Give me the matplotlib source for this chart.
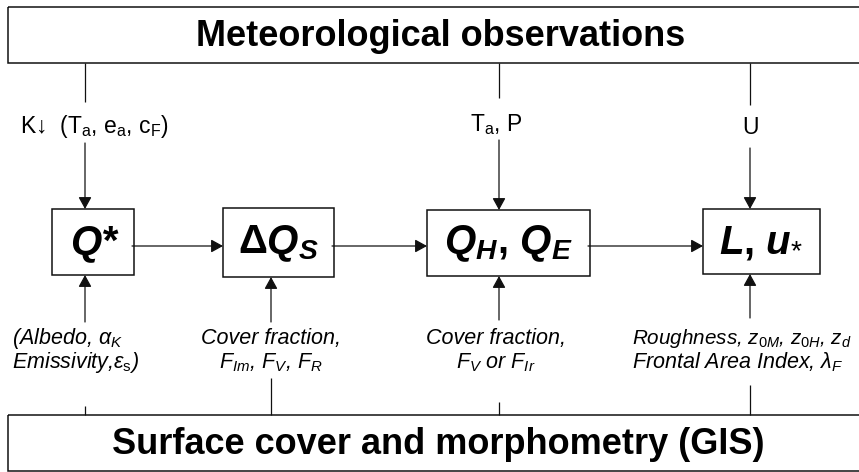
import matplotlib.pyplot as plt
from matplotlib.patches import Rectangle

plt.rcParams['font.family'] = ['Liberation Sans', 'DejaVu Sans']
plt.rcParams['mathtext.fontset'] = 'custom'
plt.rcParams['mathtext.rm'] = 'Liberation Sans'
plt.rcParams['mathtext.it'] = 'Liberation Sans:italic'
plt.rcParams['mathtext.bf'] = 'Liberation Sans:bold'
plt.rcParams['mathtext.bfit'] = 'Liberation Sans:bold:italic'
plt.rcParams['mathtext.sf'] = 'Liberation Sans'

# texts of the flow chart
top_title = 'Meteorological observations'
bottom_title = 'Surface cover and morphometry (GIS)'
box_labels = ['Q*', r'Δ$\mathbfit{Q}_{\mathbfit{S}}$',
              r'$\mathbfit{Q}_{\mathbfit{H}}$, $\mathbfit{Q}_{\mathbfit{E}}$',
              r'$\mathbfit{L}$, $\mathbfit{u}_{*}$']
met_inputs = [r'K↓  (T$_\mathrm{a}$, e$_\mathrm{a}$, c$_\mathrm{F}$)', None,
              r'T$_\mathrm{a}$, P', 'U']
gis_inputs = [(r'(Albedo, $\alpha_K$', r'Emissivity,$\varepsilon_\mathrm{s}$)'),
              ('Cover fraction,', r'$F_{Im}$, $F_V$, $F_R$'),
              ('Cover fraction,', r'$F_V$ or $F_{Ir}$'),
              (r'Roughness, $z_{0M}$, $z_{0H}$, $z_d$', r'Frontal Area Index, $\lambda_F$')]

# layout in pixels (y down)
box_x = [(52, 134), (223, 334), (427, 590), (703, 820)]
box_y = [(209, 275), (208, 277), (210, 276), (209, 274)]
line_x = [85, 271, 499, 750]

fig = plt.figure(figsize=(8.59, 4.72), dpi=100)
ax = fig.add_axes([0, 0, 1, 1])
ax.set_xlim(0, 859)
ax.set_ylim(472, 0)
ax.axis('off')

lc = '#111111'


def line(x0, y0, x1, y1):
    ax.plot([x0, x1], [y0, y1], color=lc, lw=0.9, solid_capstyle='butt')


def arrow(x0, y0, x1, y1):
    ax.annotate('', xy=(x1, y1), xytext=(x0, y0),
                arrowprops=dict(arrowstyle='-|>,head_length=0.4,head_width=0.22',
                                mutation_scale=18, color=lc, lw=0.9,
                                shrinkA=0, shrinkB=0))


# top and bottom boxes
ax.add_patch(Rectangle((8, 7), 880, 56, fill=False, ec=lc, lw=1.1))
ax.add_patch(Rectangle((8, 415), 880, 56, fill=False, ec=lc, lw=1.1))
ax.text(441, 36, top_title, ha='center', va='center', fontsize=26, fontweight='bold')
ax.text(438, 444, bottom_title, ha='center', va='center', fontsize=26, fontweight='bold')

# process boxes
for i, lab in enumerate(box_labels):
    x0, x1 = box_x[i]
    y0, y1 = box_y[i]
    ax.add_patch(Rectangle((x0, y0), x1 - x0, y1 - y0, fill=False, ec=lc, lw=1.1))
    style = 'italic' if i == 0 else 'normal'
    ax.text((x0 + x1) / 2, (y0 + y1) / 2 + 1, lab, ha='center', va='center',
            fontsize=29, fontweight='bold', fontstyle=style)

# horizontal arrows between boxes
for i in range(3):
    arrow(box_x[i][1] - 2, 246, box_x[i + 1][0], 246)

# meteorological inputs
top_gap = {85: (102, 143), 499: (98, 140), 750: (105, 148)}
for i, lab in enumerate(met_inputs):
    if lab is None:
        continue
    x = line_x[i]
    g0, g1 = top_gap[x]
    line(x, 63, x, g0)
    arrow(x, g1, x, box_y[i][0])
    if i == 0:
        ax.text(20, 133, lab, ha='left', va='baseline', fontsize=16.5)
    elif i == 2:
        ax.text(496, 131, lab, ha='center', va='baseline', fontsize=16.5)
    else:
        ax.text(x, 134, lab, ha='center', va='baseline', fontsize=16.5)

# surface inputs
bot_start = [322, 322, 320, 318]
bot_end = [406, 378, 402, 385]
for i, (l1, l2) in enumerate(gis_inputs):
    x = line_x[i]
    arrow(x, bot_start[i], x, box_y[i][1])
    line(x, bot_end[i], x, 415)
    if i == 0:
        kw = dict(x=12, ha='left')
    elif i == 3:
        kw = dict(x=632, ha='left')
    else:
        kw = dict(x=x - 3 if i == 2 else x, ha='center')
    fs1 = 14.9 if i == 3 else 15.5
    ax.text(kw['x'], 344, l1, ha=kw['ha'], va='baseline', fontsize=fs1, fontstyle='italic')
    ax.text(kw['x'], 368, l2, ha=kw['ha'], va='baseline', fontsize=15.5, fontstyle='italic')

fig.savefig('out.png', dpi=100)
